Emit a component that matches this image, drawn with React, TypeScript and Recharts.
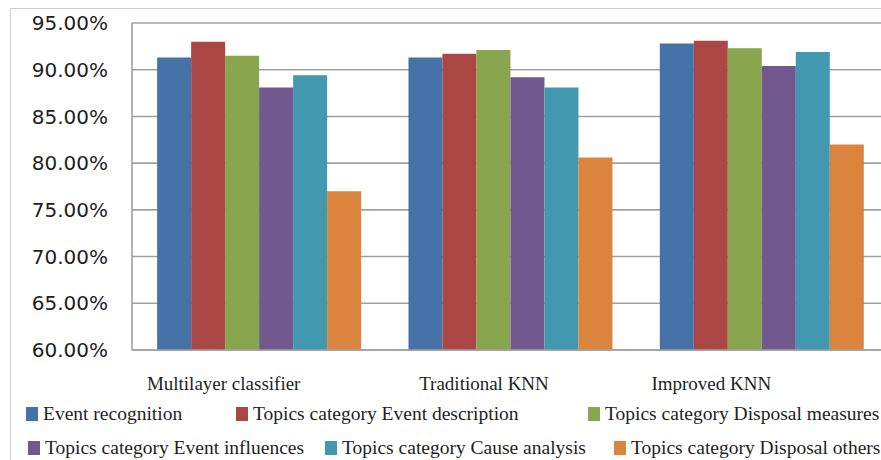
import React from "react";
import { BarChart, Bar, XAxis, YAxis, CartesianGrid, Legend } from "recharts";

const categories = ["Multilayer classifier", "Traditional KNN", "Improved KNN"];
const eventRecognition = [91.3, 91.3, 92.8];
const eventDescription = [93.0, 91.7, 93.1];
const disposalMeasures = [91.5, 92.1, 92.3];
const eventInfluences = [88.1, 89.2, 90.4];
const causeAnalysis = [89.4, 88.1, 91.9];
const disposalOthers = [77.0, 80.6, 82.0];

const seriesNames = [
  "Event recognition",
  "Topics category Event description",
  "Topics category Disposal measures",
  "Topics category Event influences",
  "Topics category Cause analysis",
  "Topics category Disposal others",
];
const seriesColors = ["#4572a7", "#aa4643", "#89a54e", "#71588f", "#4198af", "#db843d"];
const yTicks = [60, 65, 70, 75, 80, 85, 90, 95];

const data = categories.map((c, i) => ({
  name: c,
  s0: eventRecognition[i],
  s1: eventDescription[i],
  s2: disposalMeasures[i],
  s3: eventInfluences[i],
  s4: causeAnalysis[i],
  s5: disposalOthers[i],
}));

// the category labels sit a little left of their groups in the original
const labelShift = [-34, -25, -49];

function CategoryTick(props: any) {
  const { x, y, payload, index } = props;
  return (
    <text
      x={x + (labelShift[index] ?? 0)}
      y={y + 38}
      textAnchor="middle"
      fontFamily="'Liberation Serif', 'Times New Roman', serif"
      fontSize={19}
      fill="#1e1e1e"
    >
      {payload.value}
    </text>
  );
}

// legend item positions (left of swatch, row)
const legendPos = [
  { x: 26, row: 0 },
  { x: 236, row: 0 },
  { x: 588, row: 0 },
  { x: 28, row: 1 },
  { x: 325, row: 1 },
  { x: 614, row: 1 },
];

function LegendBox() {
  return (
    <div style={{ position: "relative", width: 881, height: 70 }}>
      {seriesNames.map((n, i) => (
        <div
          key={n}
          style={{
            position: "absolute",
            left: legendPos[i].x,
            top: legendPos[i].row === 0 ? 12 : 46,
            display: "flex",
            alignItems: "center",
            whiteSpace: "nowrap",
            fontFamily: "'Liberation Serif', 'Times New Roman', serif",
            fontSize: 19.5,
            color: "#1e1e1e",
            lineHeight: "23px",
          }}
        >
          <span
            style={{
              display: "inline-block",
              width: 12,
              height: 14,
              background: seriesColors[i],
              marginRight: 5,
            }}
          />
          {n}
        </div>
      ))}
    </div>
  );
}

export default function App() {
  return (
    <div
      style={{
        position: "fixed",
        left: 0,
        top: 0,
        width: 881,
        height: 460,
        overflow: "hidden",
        background: "#fff",
      }}
    >
      <div
        style={{
          position: "absolute",
          left: 10,
          top: 8,
          width: 900,
          height: 470,
          border: "1px solid #cfcfcf",
        }}
      />
      <div style={{ position: "absolute", left: 0, top: 0 }}>
        <BarChart
          width={900}
          height={460}
          data={data}
          margin={{ top: 23, right: 14, left: 0, bottom: 0 }}
          barCategoryGap="10%"
          barGap={0}
        >
          <CartesianGrid vertical={false} stroke="#a0a0a0" strokeWidth={1.6} />
          <XAxis
            dataKey="name"
            height={40}
            tickLine={false}
            tickSize={0}
            axisLine={{ stroke: "#a0a0a0", strokeWidth: 1.6 }}
            tick={<CategoryTick />}
            interval={0}
          />
          <YAxis
            width={132}
            domain={[60, 95]}
            ticks={yTicks}
            allowDataOverflow
            tickLine={false}
            tickSize={0}
            tickMargin={24}
            axisLine={{ stroke: "#a0a0a0", strokeWidth: 1.6 }}
            tick={{ fontSize: 20, fill: "#1e1e1e", fontFamily: "'DejaVu Sans', Verdana, sans-serif" }}
            tickFormatter={(v: number) => `${v.toFixed(2)}%`}
          />
          <Legend
            verticalAlign="bottom"
            content={() => <LegendBox />}
            wrapperStyle={{ left: 0, width: 881, height: 70 }}
          />
          {seriesNames.map((n, i) => (
            <Bar
              key={n}
              dataKey={`s${i}`}
              name={n}
              fill={seriesColors[i]}
              isAnimationActive={false}
            />
          ))}
        </BarChart>
      </div>
    </div>
  );
}
